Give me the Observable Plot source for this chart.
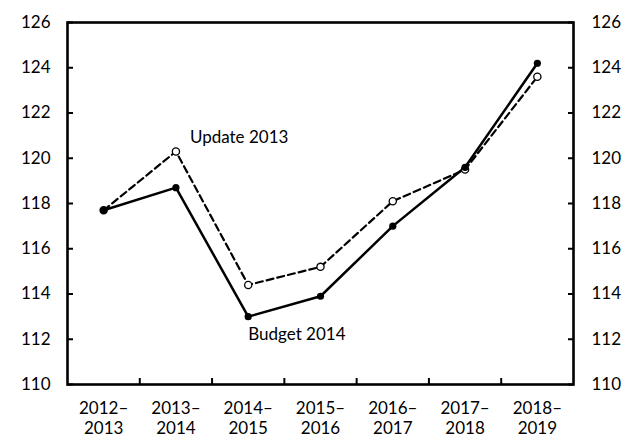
<!DOCTYPE html>
<html><head><meta charset="utf-8">
<script src="https://cdn.jsdelivr.net/npm/d3@7"></script>
<script src="https://cdn.jsdelivr.net/npm/@observablehq/plot@0.6"></script>
<style>body{margin:0;background:#fff}</style>
</head><body><div id="chart"></div>
<script>
const periods = ["2012–\n2013", "2013–\n2014", "2014–\n2015", "2015–\n2016", "2016–\n2017", "2017–\n2018", "2018–\n2019"];
const budget2014 = [117.7, 118.7, 113.0, 113.9, 117.0, 119.6, 124.2];
const update2013 = [117.7, 120.3, 114.4, 115.2, 118.1, 119.5, 123.6];
const yTicks = [110, 112, 114, 116, 118, 120, 122, 124, 126];
const seriesLabels = [
  {name: "Update 2013", series: update2013, index: 1},
  {name: "Budget 2014", series: budget2014, index: 2}
];

const rows = periods.map((p, i) => ({i, period: p, budget: budget2014[i], update: update2013[i]}));
const centers = periods.map((p, i) => i + 0.5);
const bounds = periods.slice(1).map((p, i) => i + 1);
const labelRows = seriesLabels.map(d => ({name: d.name, x: d.index + 0.5, y: d.series[d.index]}));

const font = "Lato, 'Open Sans', sans-serif";
const fs = 17;
const chart = Plot.plot({
  width: 623,
  height: 441,
  marginLeft: 67,
  marginRight: 50,
  marginTop: 22,
  marginBottom: 57,
  style: {fontFamily: font, fontSize: fs + "px", color: "black", background: "white"},
  x: {type: "linear", domain: [0, periods.length]},
  y: {domain: [110, 126]},
  marks: [
    Plot.axisY({anchor: "left", ticks: yTicks, tickSize: -6, tickPadding: 23, strokeWidth: 2, label: null, fontSize: fs}),
    Plot.axisY({anchor: "right", ticks: yTicks, tickSize: -6, tickPadding: 24, strokeWidth: 2, label: null, fontSize: fs}),
    Plot.axisX({ticks: bounds, tickSize: -6, strokeWidth: 2, tickFormat: () => "", label: null}),
    Plot.axisX({ticks: centers, tickSize: 0, tickPadding: 15, tickFormat: v => periods[Math.round(v - 0.5)], lineHeight: 1.2, label: null, fontSize: fs}),
    Plot.line(rows, {x: d => d.i + 0.5, y: "update", stroke: "black", strokeWidth: 2.2, strokeDasharray: "7,4"}),
    Plot.line(rows, {x: d => d.i + 0.5, y: "budget", stroke: "black", strokeWidth: 2.5}),
    Plot.dot(rows, {x: d => d.i + 0.5, y: "update", r: 3.6, fill: "white", stroke: "black", strokeWidth: 1.3}),
    Plot.dot(rows, {x: d => d.i + 0.5, y: "budget", r: 3.6, fill: "black"}),
    Plot.text(labelRows.slice(0, 1), {x: "x", y: "y", text: "name", textAnchor: "start", dx: 14, dy: -14, fontSize: fs}),
    Plot.text(labelRows.slice(1), {x: "x", y: "y", text: "name", textAnchor: "start", dx: 0, dy: 18, fontSize: fs}),
    Plot.frame({stroke: "black", strokeWidth: 2.6})
  ]
});
document.getElementById("chart").append(chart);
</script>
</body></html>
